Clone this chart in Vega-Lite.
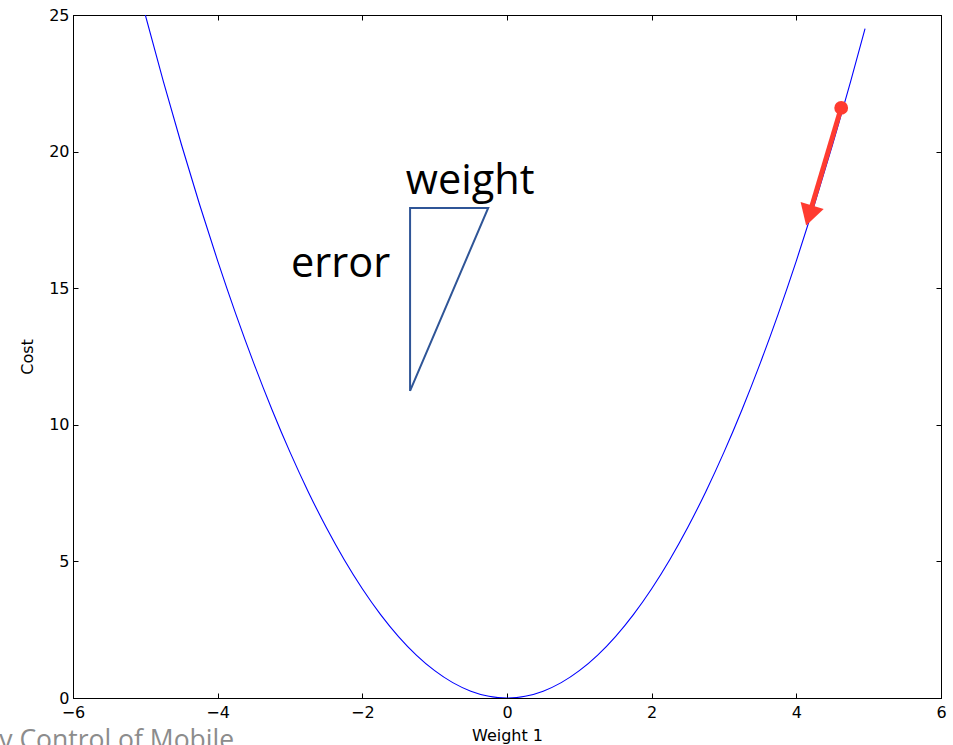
{
  "$schema": "https://vega.github.io/schema/vega-lite/v6.json",
  "width": 868,
  "height": 683,
  "autosize": "none",
  "padding": {"left": 73, "top": 15, "right": 12, "bottom": 47},
  "background": "white",
  "config": {
    "view": {"stroke": "black", "strokeWidth": 1},
    "axis": {
      "grid": false,
      "domainColor": "black",
      "tickColor": "black",
      "labelColor": "black",
      "titleColor": "black",
      "labelFont": "DejaVu Sans",
      "titleFont": "DejaVu Sans",
      "labelFontSize": 16,
      "titleFontSize": 16,
      "titleFontWeight": "normal",
      "tickSize": -5,
      "labelPadding": 11,
      "labelFlush": false,
      "labelOverlap": false
    }
  },
  "datasets": {
    "curve": [
      {"w": -5.0, "cost": 25.0}, {"w": -4.75, "cost": 22.5625}, {"w": -4.5, "cost": 20.25},
      {"w": -4.25, "cost": 18.0625}, {"w": -4.0, "cost": 16.0}, {"w": -3.75, "cost": 14.0625},
      {"w": -3.5, "cost": 12.25}, {"w": -3.25, "cost": 10.5625}, {"w": -3.0, "cost": 9.0},
      {"w": -2.75, "cost": 7.5625}, {"w": -2.5, "cost": 6.25}, {"w": -2.25, "cost": 5.0625},
      {"w": -2.0, "cost": 4.0}, {"w": -1.75, "cost": 3.0625}, {"w": -1.5, "cost": 2.25},
      {"w": -1.25, "cost": 1.5625}, {"w": -1.0, "cost": 1.0}, {"w": -0.75, "cost": 0.5625},
      {"w": -0.5, "cost": 0.25}, {"w": -0.25, "cost": 0.0625}, {"w": 0.0, "cost": 0.0},
      {"w": 0.25, "cost": 0.0625}, {"w": 0.5, "cost": 0.25}, {"w": 0.75, "cost": 0.5625},
      {"w": 1.0, "cost": 1.0}, {"w": 1.25, "cost": 1.5625}, {"w": 1.5, "cost": 2.25},
      {"w": 1.75, "cost": 3.0625}, {"w": 2.0, "cost": 4.0}, {"w": 2.25, "cost": 5.0625},
      {"w": 2.5, "cost": 6.25}, {"w": 2.75, "cost": 7.5625}, {"w": 3.0, "cost": 9.0},
      {"w": 3.25, "cost": 10.5625}, {"w": 3.5, "cost": 12.25}, {"w": 3.75, "cost": 14.0625},
      {"w": 4.0, "cost": 16.0}, {"w": 4.25, "cost": 18.0625}, {"w": 4.5, "cost": 20.25},
      {"w": 4.75, "cost": 22.5625}, {"w": 4.95, "cost": 24.5025}
    ],
    "triangle": [
      {"k": 0, "w": -1.34, "cost": 11.24},
      {"k": 1, "w": -1.34, "cost": 17.94},
      {"k": 2, "w": -0.26, "cost": 17.94},
      {"k": 3, "w": -1.34, "cost": 11.24}
    ],
    "shaft": [
      {"k": 0, "w": 4.62, "cost": 21.6},
      {"k": 1, "w": 4.205, "cost": 17.92}
    ],
    "start": [{"w": 4.62, "cost": 21.6}],
    "head": [{"w": 4.177, "cost": 17.66, "angle": 16.7}],
    "notes": [
      {"w": -0.51, "cost": 18.45, "label": "weight"},
      {"w": -2.3, "cost": 15.4, "label": "error"}
    ],
    "footer": [{"w": -7.02, "cost": -1.85, "label": "y Control of Mobile"}]
  },
  "resolve": {"axis": {"x": "independent", "y": "independent"}},
  "layer": [
    {
      "data": {"name": "curve"},
      "mark": {"type": "line", "color": "#0000ff", "strokeWidth": 1.1, "interpolate": "natural", "clip": true},
      "encoding": {
        "x": {"field": "w", "type": "quantitative", "scale": {"domain": [-6, 6], "nice": false, "zero": false},
              "axis": {"title": "Weight 1", "values": [-6, -4, -2, 0, 2, 4, 6], "format": "d", "titlePadding": 7}},
        "y": {"field": "cost", "type": "quantitative", "scale": {"domain": [0, 25], "nice": false},
              "axis": {"title": "Cost", "values": [0, 5, 10, 15, 20, 25], "format": "d", "titlePadding": 13, "labelPadding": 9}}
      }
    },
    {
      "data": {"name": "triangle"},
      "mark": {"type": "line", "color": "#2f5597", "strokeWidth": 2, "strokeJoin": "miter"},
      "encoding": {
        "x": {"field": "w", "type": "quantitative",
              "axis": {"orient": "top", "title": null, "labels": false, "values": [-6, -4, -2, 0, 2, 4, 6]}},
        "y": {"field": "cost", "type": "quantitative",
              "axis": {"orient": "right", "title": null, "labels": false, "values": [0, 5, 10, 15, 20, 25]}},
        "order": {"field": "k", "type": "quantitative"}
      }
    },
    {
      "data": {"name": "shaft"},
      "mark": {"type": "line", "color": "#ff3b30", "strokeWidth": 5},
      "encoding": {
        "x": {"field": "w", "type": "quantitative", "axis": null},
        "y": {"field": "cost", "type": "quantitative", "axis": null},
        "order": {"field": "k", "type": "quantitative"}
      }
    },
    {
      "data": {"name": "start"},
      "mark": {"type": "point", "filled": true, "color": "#ff3b30", "opacity": 1, "size": 190},
      "encoding": {
        "x": {"field": "w", "type": "quantitative", "axis": null},
        "y": {"field": "cost", "type": "quantitative", "axis": null}
      }
    },
    {
      "data": {"name": "head"},
      "mark": {"type": "point", "shape": "triangle-down", "filled": true, "color": "#ff3b30", "opacity": 1, "size": 580},
      "encoding": {
        "x": {"field": "w", "type": "quantitative", "axis": null},
        "y": {"field": "cost", "type": "quantitative", "axis": null},
        "angle": {"field": "angle", "type": "quantitative", "scale": null}
      }
    },
    {
      "data": {"name": "notes"},
      "mark": {"type": "text", "font": "Open Sans", "fontSize": 41.5, "color": "black", "align": "center", "baseline": "alphabetic"},
      "encoding": {
        "x": {"field": "w", "type": "quantitative", "axis": null},
        "y": {"field": "cost", "type": "quantitative", "axis": null},
        "text": {"field": "label"}
      }
    },
    {
      "data": {"name": "footer"},
      "mark": {"type": "text", "font": "Open Sans", "fontSize": 26.5, "color": "#8c8c8c", "align": "left", "baseline": "alphabetic"},
      "encoding": {
        "x": {"field": "w", "type": "quantitative", "axis": null},
        "y": {"field": "cost", "type": "quantitative", "axis": null},
        "text": {"field": "label"}
      }
    }
  ]
}
